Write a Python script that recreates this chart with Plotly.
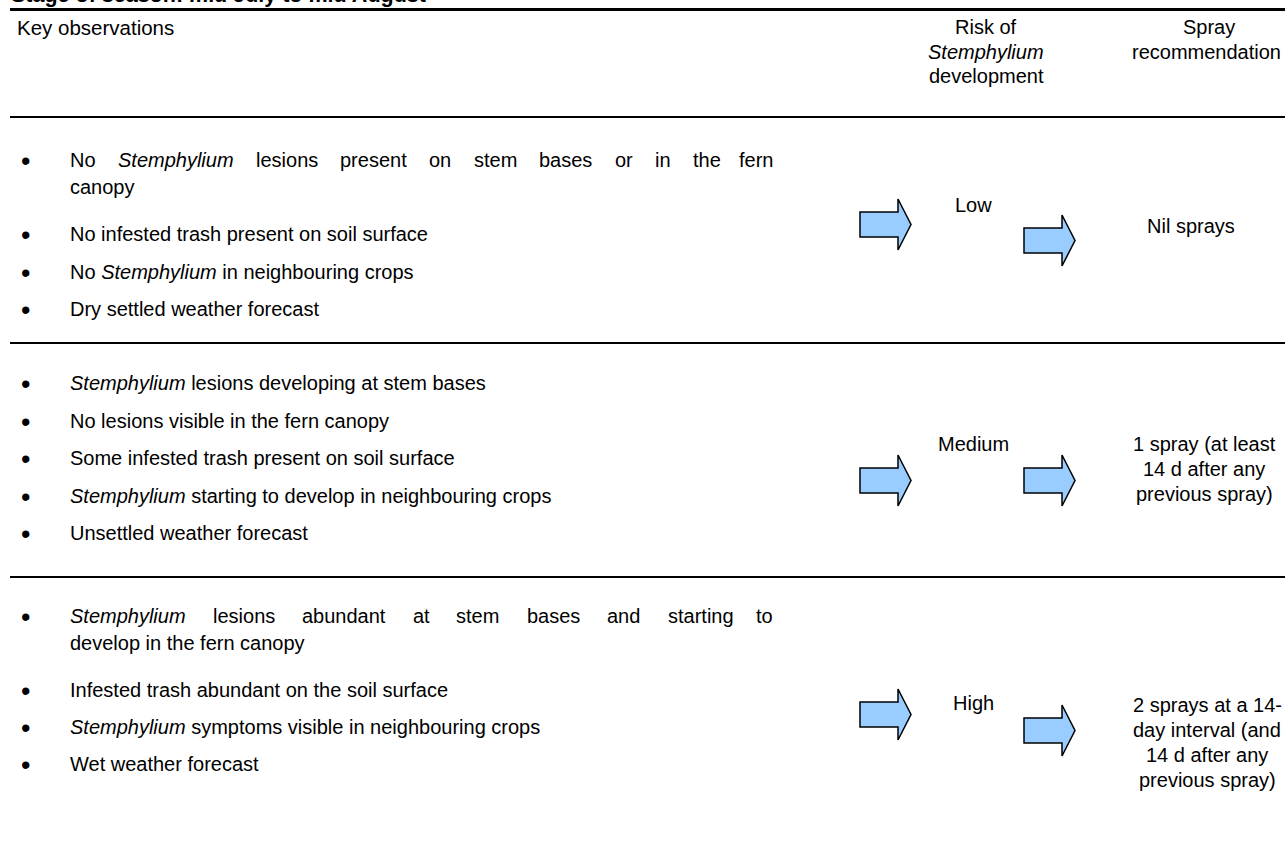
import plotly.graph_objects as go

# ---------------- data ----------------
title_text = "Stage of season: mid July to mid August"
header_obs = "Key observations"
header_risk = ["Risk of", "<i>Stemphylium</i>", "development"]
header_spray = ["Spray", "recommendation"]

risk_levels = ["Low", "Medium", "High"]

# each observation is a list of display lines; first line of a wrapped item is justified
observations_low = [
    ["No <i>Stemphylium</i> lesions present on stem bases or in the fern", "canopy"],
    ["No infested trash present on soil surface"],
    ["No <i>Stemphylium</i> in neighbouring crops"],
    ["Dry settled weather forecast"],
]
observations_medium = [
    ["<i>Stemphylium</i> lesions developing at stem bases"],
    ["No lesions visible in the fern canopy"],
    ["Some infested trash present on soil surface"],
    ["<i>Stemphylium</i> starting to develop in neighbouring crops"],
    ["Unsettled weather forecast"],
]
observations_high = [
    ["<i>Stemphylium</i> lesions abundant at stem bases and starting to", "develop in the fern canopy"],
    ["Infested trash abundant on the soil surface"],
    ["<i>Stemphylium</i> symptoms visible in neighbouring crops"],
    ["Wet weather forecast"],
]
spray_low = ["Nil sprays"]
spray_medium = ["1 spray (at least", "14 d after any", "previous spray)"]
spray_high = ["2 sprays at a 14-", "day interval (and", "14 d after any", "previous spray)"]

# ---------------- layout helpers ----------------
W, H = 1285, 864
SANS = "Liberation Sans, Arial, sans-serif"
HSIZE = 20
BSIZE = 20

# Arial advance widths (1/1000 em)
AW = {' ': 278, 'a': 556, 'b': 556, 'c': 500, 'd': 556, 'e': 556, 'f': 278, 'g': 556, 'h': 556,
      'i': 222, 'j': 222, 'k': 500, 'l': 222, 'm': 833, 'n': 556, 'o': 556, 'p': 556, 'q': 556,
      'r': 333, 's': 500, 't': 278, 'u': 556, 'v': 500, 'w': 722, 'x': 500, 'y': 500, 'z': 500,
      'S': 667, 'N': 722}


def word_width(w, size):
    plain = w.replace("<i>", "").replace("</i>", "")
    return sum(AW.get(c, 556) for c in plain) / 1000 * size


annotations = []
shapes = []


def text(x, y, s, size=HSIZE, family=SANS, xanchor="center", bold=False):
    if bold:
        s = "<b>" + s + "</b>"
    annotations.append(dict(x=x, y=y, xref="x", yref="y", text=s, showarrow=False,
                            xanchor=xanchor, yanchor="middle",
                            font=dict(family=family, size=size, color="black")))


def hline(y, w=2.2):
    shapes.append(dict(type="line", xref="x", yref="y", x0=10, x1=W, y0=y, y1=y,
                       line=dict(color="black", width=w)))


def arrow(x0, ym):
    xb, tip = x0 + 38, x0 + 51
    st, sb = ym - 12.5, ym + 12.5
    ht, hb = ym - 25.5, ym + 25.5
    path = (f"M {x0},{st} L {xb},{st} L {xb},{ht} L {tip},{ym} "
            f"L {xb},{hb} L {xb},{sb} L {x0},{sb} Z")
    shapes.append(dict(type="path", xref="x", yref="y", path=path,
                       fillcolor="#99ccff", line=dict(color="black", width=1.5)))


# title (partly cut off at top edge) - paper ref so it is not hidden
annotations.append(dict(x=9 / W, y=1 + 5.5 / H, xref="paper", yref="paper",
                        text="<b>" + title_text + "</b>", showarrow=False,
                        xanchor="left", yanchor="middle",
                        font=dict(family=SANS, size=21.5, color="black")))
hline(9.5, 2.8)
hline(117)
hline(343)
hline(577)

# headers
text(15, 27, header_obs, xanchor="left", size=20.5)
for s, y in zip(header_risk, [27, 51.5, 76]):
    text(986, y, s)
rec_w = word_width("recommendation", HSIZE)
text(1283 - rec_w / 2, 27, header_spray[0])
text(1283, 51.5, header_spray[1], xanchor="right")

# observations
TEXT_X, BULLET_X, JUST_R = 68, 25, 775
sections = [
    (observations_low, [[160, 187], [234], [271.5], [309]]),
    (observations_medium, [[383], [421], [458], [496], [533]]),
    (observations_high, [[616, 643], [690], [727], [764]]),
]
for obs, ys in sections:
    for item, yl in zip(obs, ys):
        text(BULLET_X, yl[0] + 1, "•", size=27, family=SANS)
        for li, (line, y) in enumerate(zip(item, yl)):
            if len(item) > 1 and li == 0:
                words = line.split(" ")
                widths = [word_width(w, BSIZE) for w in words]
                gap = (JUST_R - TEXT_X - sum(widths)) / (len(words) - 1)
                x = TEXT_X
                for k, (w, ww) in enumerate(zip(words, widths)):
                    if k == len(words) - 1:
                        text(JUST_R, y, w, size=BSIZE, xanchor="right")
                    else:
                        text(x, y, w, size=BSIZE, xanchor="left")
                    x += ww + gap
            else:
                text(TEXT_X, y, line, size=BSIZE, xanchor="left")

# arrows
arrow(860, 224.5); arrow(1024, 240.5)
arrow(860, 480.5); arrow(1024, 480.5)
arrow(860, 714.5); arrow(1024, 730.5)

# risk labels
for lvl, y in zip(risk_levels, [205, 444, 703]):
    text(973, y, lvl)

# spray recommendations
for lines, cx, y0 in [(spray_low, 1191, 226), (spray_medium, 1204, 444), (spray_high, 1207, 705)]:
    for i, s in enumerate(lines):
        text(cx, y0 + i * 25, s)

fig = go.Figure()
fig.update_layout(
    width=W, height=H, margin=dict(l=0, r=0, t=0, b=0),
    paper_bgcolor="white", plot_bgcolor="white", showlegend=False,
    xaxis=dict(range=[0, W], visible=False, fixedrange=True),
    yaxis=dict(range=[H, 0], visible=False, fixedrange=True),
    annotations=annotations, shapes=shapes,
)
fig.write_html("out.html", config={"displayModeBar": False},
               post_script="document.body.style.margin='0';document.body.style.overflow='hidden';")
